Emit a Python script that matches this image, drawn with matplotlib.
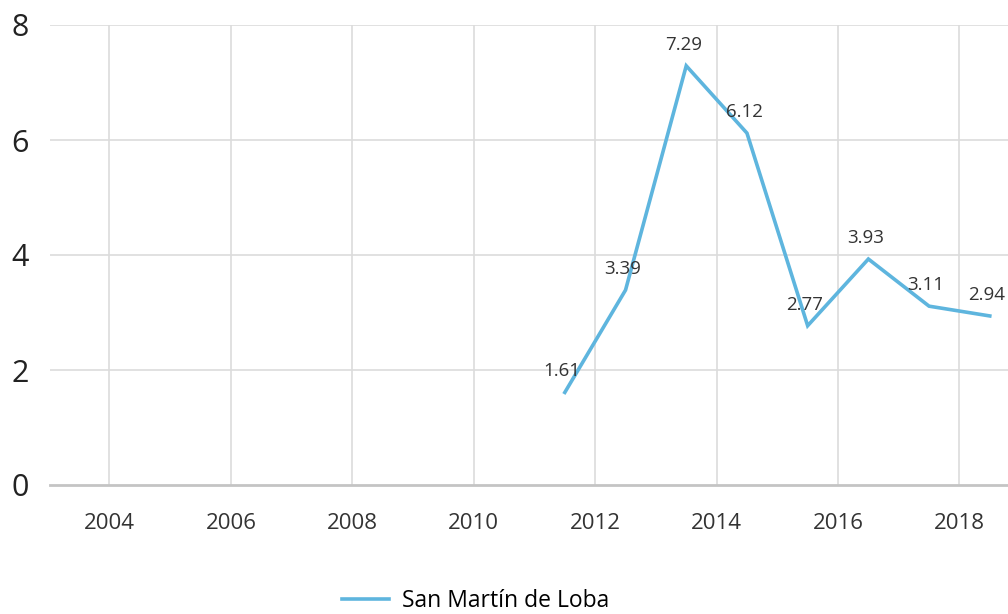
import matplotlib
matplotlib.use("Agg")
import matplotlib.pyplot as plt
from matplotlib.lines import Line2D

years = [2011.5, 2012.5, 2013.5, 2014.5, 2015.5, 2016.5, 2017.5, 2018.5]
values = [1.61, 3.39, 7.29, 6.12, 2.77, 3.93, 3.11, 2.94]
labels = ["1.61", "3.39", "7.29", "6.12", "2.77", "3.93", "3.11", "2.94"]
xticks = [2004, 2006, 2008, 2010, 2012, 2014, 2016, 2018]
yticks = [0, 2, 4, 6, 8]
series_name = "San Martín de Loba"

plt.rcParams['font.family'] = ['Open Sans', 'DejaVu Sans']
color = '#5eb5de'

fig = plt.figure(figsize=(10.08, 6.14), dpi=100)
ax = fig.add_axes([50/1008, 1-485/614, 958/1008, 460/614])
ax.set_xlim(2003.02, 2018.8)
ax.set_ylim(0, 8)

for s in ax.spines.values():
    s.set_visible(False)

for x in xticks:
    ax.axvline(x, color='#dcdcdc', lw=1.2, zorder=0)
for y in yticks[1:]:
    ax.axhline(y, color='#dcdcdc', lw=1.2, zorder=0)
ax.axhline(0, color='#c4c4c4', lw=2, zorder=1, clip_on=False)

ax.plot(years, values, color=color, lw=2.6, solid_joinstyle='miter', zorder=3)
for x, y, t in zip(years, values, labels):
    ax.annotate(t, (x, y), xytext=(-3, 21), textcoords='offset pixels',
                ha='center', va='center', fontsize=13.5, color='#333333', zorder=4)

ax.set_xticks(xticks)
ax.set_xticklabels([str(x) for x in xticks], fontsize=16, color='#333333')
ax.set_yticks(yticks)
ax.set_yticklabels([str(y) for y in yticks], fontsize=22, color='#222222')
ax.tick_params(axis='x', length=0, pad=20.5)
ax.tick_params(axis='y', length=0, pad=15)

handle = Line2D([0], [0], color=color, lw=2.6)
fig.legend([handle], [series_name], loc='center', bbox_to_anchor=(476/1008, 1-601/614),
           frameon=False, fontsize=16.5, handlelength=2.05, handletextpad=0.57)

fig.savefig('out.png', dpi=100)
